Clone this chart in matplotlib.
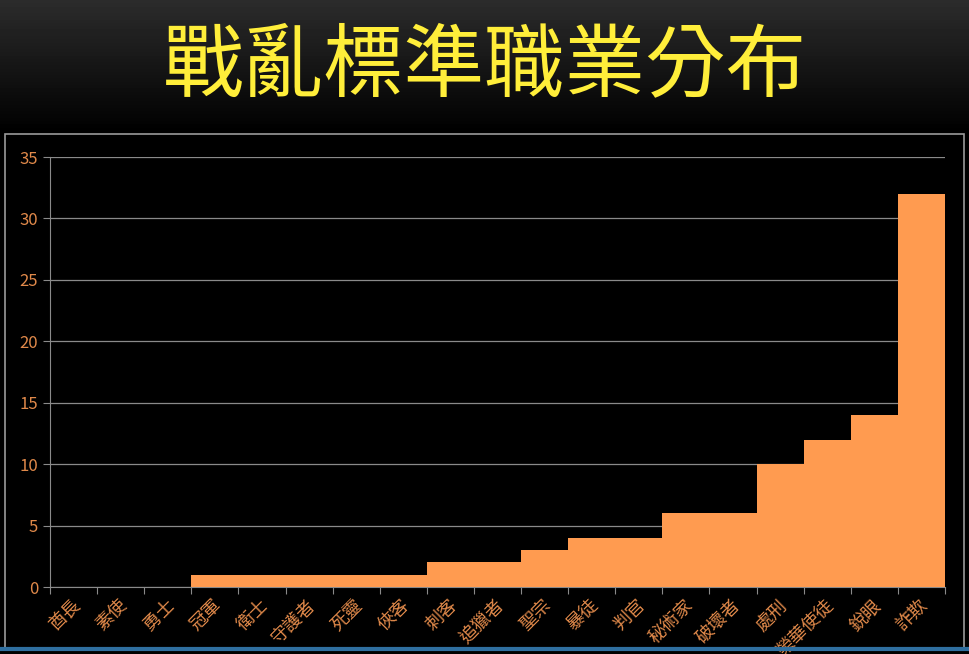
import matplotlib
matplotlib.use('Agg')
import matplotlib.pyplot as plt
import numpy as np

plt.rcParams['font.family'] = ['Noto Sans CJK TC', 'DejaVu Sans']

# data
jobs = ['酋長', '素使', '勇士', '冠軍', '衛士', '守護者', '死靈', '俠客', '刺客', '追獵者',
        '聖宗', '暴徒', '判官', '秘術家', '破壞者', '處刑', '榮華使徒', '銳眼', '詐欺']
counts = [0, 0, 0, 1, 1, 1, 1, 1, 2, 2, 3, 4, 4, 6, 6, 10, 12, 14, 32]
yticks = [0, 5, 10, 15, 20, 25, 30, 35]

orange = '#FF9B50'
label_col = '#E0894A'

fig = plt.figure(figsize=(9.69, 6.54), dpi=100)
fig.patch.set_facecolor('black')

# dark gradient behind the title
bg = fig.add_axes([0, 0, 1, 1], zorder=-5)
grad = np.linspace(0, 1, 200).reshape(-1, 1)
grad = np.where(grad < 0.2, 0.17 * (1 - grad / 0.2), 0.0)
bg.imshow(grad, aspect='auto', cmap='gray', vmin=0, vmax=1, extent=[0, 1, 0, 1])
bg.set_xlim(0, 1)
bg.set_ylim(0, 1)
bg.axis('off')

fig.text(0.5, 0.898, '戰亂標準職業分布', color='#FFEE3A', fontsize=58, fontweight='light',
         ha='center', va='center')

# chart frame
frame = plt.Rectangle((5 / 969, 4 / 654), 959 / 969, 516 / 654, transform=fig.transFigure,
                      fill=False, edgecolor='#9a9a9a', linewidth=1.2)
fig.patches.append(frame)
fig.add_artist(plt.Line2D([0, 1], [5 / 654, 5 / 654], color='#2f6fa0', linewidth=3,
                          transform=fig.transFigure))

ax = fig.add_axes([50 / 969, 67 / 654, 895 / 969, 430 / 654])
ax.set_facecolor('black')
x = np.arange(len(jobs))
ax.bar(x, counts, width=1.0, align='edge', color=orange, zorder=3)
ax.set_xlim(0, len(jobs))
ax.set_ylim(0, 35)
ax.set_yticks(yticks)
ax.yaxis.grid(True, color='#8a8a8a', linewidth=0.9, zorder=0)
ax.set_axisbelow(True)
for s in ['top', 'right']:
    ax.spines[s].set_visible(False)
ax.spines['left'].set_color('#8a8a8a')
ax.spines['bottom'].set_color('#8a8a8a')
ax.tick_params(axis='y', colors='#8a8a8a', labelcolor=label_col, labelsize=12, length=5)
ax.tick_params(axis='x', colors='#8a8a8a', length=5)
ax.set_xticks(np.arange(len(jobs) + 1))
ax.set_xticklabels([])
for i, name in enumerate(jobs):
    ax.text(i + 0.45, -0.75, name, rotation=45, rotation_mode='anchor', ha='right', va='top',
            color=label_col, fontsize=13, clip_on=False)

plt.savefig('out.png', dpi=100, facecolor='black')
